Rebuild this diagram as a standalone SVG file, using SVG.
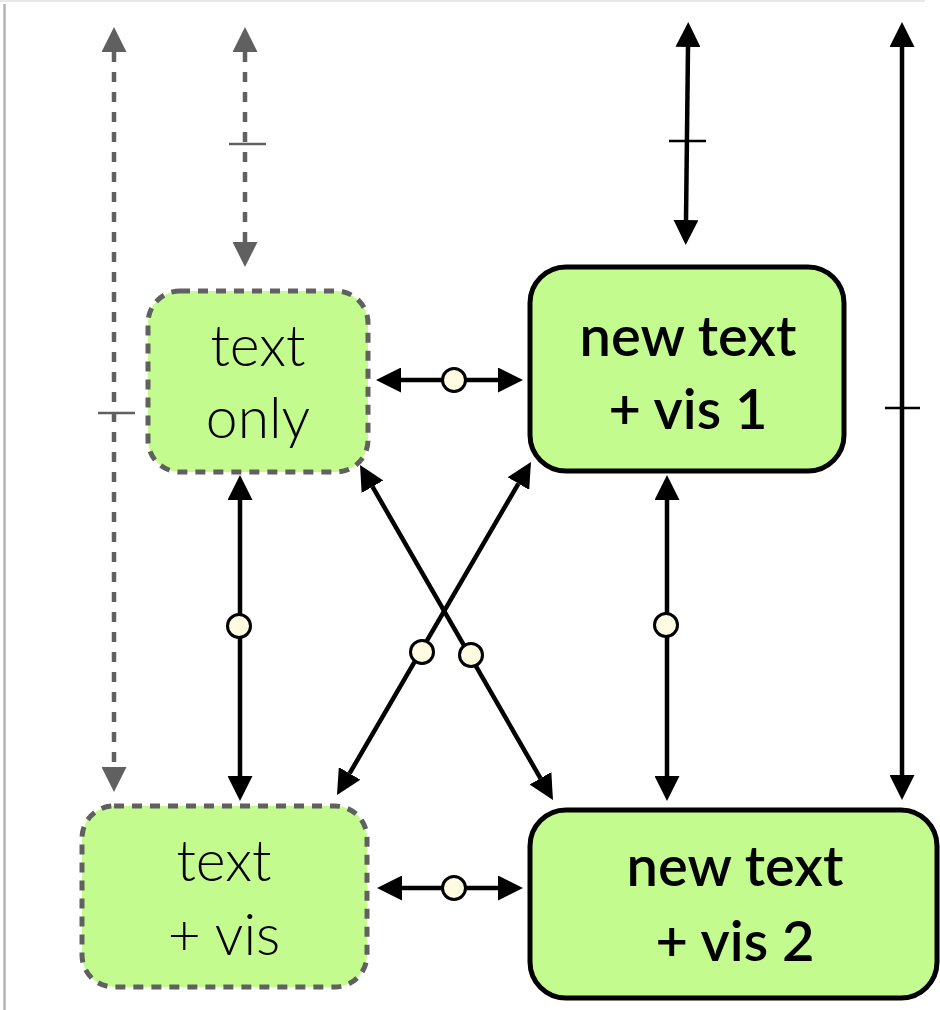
<svg xmlns="http://www.w3.org/2000/svg" width="940" height="1010" viewBox="0 0 940 1010">
<style>
.bg{fill:#ffffff}
.frame{stroke:#b4b4b4;stroke-width:2.5;fill:none}
.frametop{stroke:#e8e8e8;stroke-width:2;fill:none}
.dnode{fill:#c4fb8e;stroke:#606060;stroke-width:5;stroke-dasharray:10 8}
.snode{fill:#c4fb8e;stroke:#000000;stroke-width:5}
.lt{font-family:Lato,"Liberation Sans",sans-serif;font-weight:300;font-size:57px;fill:#000;text-anchor:middle}
.bt{font-family:Lato,"Liberation Sans",sans-serif;font-weight:600;font-size:56px;fill:#000;text-anchor:middle}
.gline{stroke:#606060;stroke-width:4.5;stroke-dasharray:10 10;fill:none}
.bline{stroke:#000;stroke-width:4.5;fill:none}
.gtick{stroke:#606060;stroke-width:2.5}
.btick{stroke:#000;stroke-width:2.5}
.dot{fill:#fffbe3;stroke:#000;stroke-width:3}
</style>
<defs>
<marker id="ag" viewBox="0 0 25 25" markerWidth="25" markerHeight="25" refX="0" refY="12.5" orient="auto-start-reverse" markerUnits="userSpaceOnUse">
<path d="M0,0 L25,12.5 L0,25 z" fill="#606060"/>
</marker>
<marker id="ab" viewBox="0 0 25 25" markerWidth="25" markerHeight="25" refX="0" refY="12.5" orient="auto-start-reverse" markerUnits="userSpaceOnUse">
<path d="M0,0 L25,12.5 L0,25 z" fill="#000"/>
</marker>
</defs>
<rect class="bg" x="0" y="0" width="940" height="1010"/>
<line class="frametop" x1="0" y1="1" x2="925" y2="1"/>
<line class="frame" x1="4.5" y1="4" x2="4.5" y2="1010"/>

<g id="connectors">
<line class="gline" x1="114" y1="52" x2="114" y2="767" marker-start="url(#ag)" marker-end="url(#ag)"/>
<line class="gtick" x1="98" y1="413" x2="135" y2="413"/>
<line class="gline" x1="245" y1="52" x2="245" y2="242" marker-start="url(#ag)" marker-end="url(#ag)"/>
<line class="gtick" x1="229" y1="144" x2="266" y2="144"/>
<line class="bline" x1="688" y1="47" x2="686" y2="220" marker-start="url(#ab)" marker-end="url(#ab)"/>
<line class="btick" x1="669" y1="141" x2="706" y2="141"/>
<line class="bline" x1="902" y1="47" x2="902" y2="775" marker-start="url(#ab)" marker-end="url(#ab)"/>
<line class="btick" x1="885" y1="408" x2="920" y2="408"/>
<line class="bline" x1="401" y1="380" x2="498" y2="380" marker-start="url(#ab)" marker-end="url(#ab)"/>
<circle class="dot" cx="454" cy="380" r="11.5"/>
<line class="bline" x1="402" y1="888" x2="498" y2="888" marker-start="url(#ab)" marker-end="url(#ab)"/>
<circle class="dot" cx="454" cy="888" r="11.5"/>
<line class="bline" x1="240" y1="500" x2="240" y2="776" marker-start="url(#ab)" marker-end="url(#ab)"/>
<circle class="dot" cx="239" cy="626" r="11.5"/>
<line class="bline" x1="667" y1="500" x2="667" y2="776" marker-start="url(#ab)" marker-end="url(#ab)"/>
<circle class="dot" cx="666" cy="625" r="11.5"/>
<line class="bline" x1="372.5" y1="486.7" x2="540.5" y2="778.3" marker-start="url(#ab)" marker-end="url(#ab)"/>
<circle class="dot" cx="471" cy="655" r="11.5"/>
<line class="bline" x1="518.4" y1="483.6" x2="349.6" y2="773.4" marker-start="url(#ab)" marker-end="url(#ab)"/>
<circle class="dot" cx="422" cy="652" r="11.5"/>
</g>

<g id="node-text-only">
<rect class="dnode" x="148" y="291" width="220" height="181" rx="32"/>
<text class="lt" x="258" y="366">text</text>
<text class="lt" x="258" y="438">only</text>
</g>
<g id="node-new-text-vis1">
<rect class="snode" x="530" y="267" width="314" height="204" rx="36"/>
<text class="bt" x="688" y="356">new text</text>
<text class="bt" x="688" y="429">+ vis 1</text>
</g>
<g id="node-text-vis">
<rect class="dnode" x="82" y="806" width="285" height="181" rx="32"/>
<text class="lt" x="224" y="881">text</text>
<text class="lt" x="224" y="955">+ vis</text>
</g>
<g id="node-new-text-vis2">
<rect class="snode" x="530" y="810" width="407" height="188" rx="36"/>
<text class="bt" x="735" y="886">new text</text>
<text class="bt" x="735" y="961">+ vis 2</text>
</g>
</svg>
